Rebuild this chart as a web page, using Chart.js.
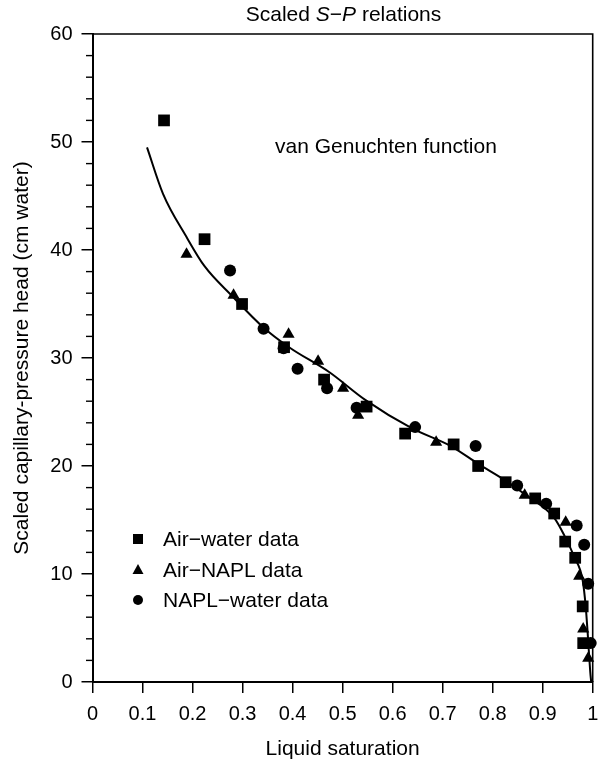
<!DOCTYPE html>
<html>
<head>
<meta charset="utf-8">
<script src="https://cdn.jsdelivr.net/npm/chart.js@4"></script>
<style>
  html,body{margin:0;padding:0;background:#fff;}
  #wrap{width:601px;height:762px;position:relative;}
</style>
</head>
<body>
<div id="wrap"><canvas id="chart" width="601" height="762"></canvas></div>
<script>
/* DATA */
const xTicks = [0,0.1,0.2,0.3,0.4,0.5,0.6,0.7,0.8,0.9,1];
const yTicks = [0,10,20,30,40,50,60];

const airWaterX = [0.143,0.224,0.299,0.383,0.463,0.548,0.625,0.722,0.771,0.826,0.885,0.923,0.945,0.965,0.980,0.981];
const airWaterY = [52.0,41.0,35.0,31.0,28.0,25.5,23.0,22.0,20.0,18.5,17.0,15.6,13.0,11.5,7.0,3.6];

const airNaplX = [0.188,0.282,0.392,0.451,0.501,0.531,0.687,0.864,0.946,0.973,0.981,0.991];
const airNaplY = [39.6,35.8,32.2,29.7,27.2,24.7,22.2,17.3,14.8,9.8,4.9,2.2];

const naplWaterX = [0.275,0.342,0.382,0.410,0.469,0.528,0.645,0.766,0.849,0.907,0.968,0.983,0.991,0.996];
const naplWaterY = [38.1,32.7,30.9,29.0,27.2,25.4,23.6,21.85,18.2,16.5,14.5,12.7,9.1,3.6];

const curveX = [0.109,0.141,0.188,0.224,0.280,0.340,0.393,0.473,0.546,0.638,0.718,0.771,0.824,0.870,0.923,0.943,0.963,0.980,0.986,0.990,0.995,0.997];
const curveY = [49.5,45.2,41.2,38.5,35.7,32.9,31.0,28.7,26.1,23.5,21.8,20.2,18.7,17.2,15.2,13.6,11.6,9.4,7.0,4.5,1.0,0];

const pts = (xs,ys)=>xs.map((x,i)=>({x:x,y:ys[i]}));

const FONT = "'Liberation Sans', Arial, Helvetica, sans-serif";

/* TEXT, FRAME, MINOR TICKS, LEGEND */
const decor = {
  id:"decor",
  afterDraw(chart){
    const ctx = chart.ctx, a = chart.chartArea;
    const ys = chart.scales.y;
    ctx.save();
    ctx.strokeStyle = "#000";
    ctx.fillStyle = "#000";

    // top + right frame
    ctx.lineWidth = 1.6;
    ctx.beginPath();
    ctx.moveTo(a.left, a.top); ctx.lineTo(a.right, a.top); ctx.lineTo(a.right, a.bottom);
    ctx.stroke();

    // y minor ticks
    ctx.lineWidth = 1.4;
    for(let v=2; v<60; v+=2){
      if(v%10===0) continue;
      const py = ys.getPixelForValue(v);
      ctx.beginPath(); ctx.moveTo(a.left-6.5, py); ctx.lineTo(a.left, py); ctx.stroke();
    }

    // title with italic S and P
    const parts = [["Scaled ",""],["S","italic "],["\u2212",""],["P","italic "],[" relations",""]];
    let total = 0;
    parts.forEach(p=>{ ctx.font = p[1]+"21px "+FONT; total += ctx.measureText(p[0]).width; });
    let tx = 343.5 - total/2;
    ctx.textBaseline = "alphabetic"; ctx.textAlign = "left";
    parts.forEach(p=>{ ctx.font = p[1]+"21px "+FONT; ctx.fillText(p[0], tx, 20.5); tx += ctx.measureText(p[0]).width; });

    // axis titles
    ctx.font = "21px "+FONT;
    ctx.textAlign = "center";
    ctx.fillText("Liquid saturation", (a.left+a.right)/2, 754.5);
    ctx.save();
    ctx.translate(28, (a.top+a.bottom)/2);
    ctx.rotate(-Math.PI/2);
    ctx.fillText("Scaled capillary-pressure head (cm water)", 0, 0);
    ctx.restore();

    // annotation
    ctx.textAlign = "left";
    ctx.fillText("van Genuchten function", 275, 152.5);

    // legend
    const rows = [
      {label:"Air\u2212water data", y:539, style:"rect"},
      {label:"Air\u2212NAPL data", y:570, style:"triangle"},
      {label:"NAPL\u2212water data", y:600, style:"circle"}
    ];
    rows.forEach(r=>{
      const cx = 138;
      ctx.beginPath();
      if(r.style==="rect") ctx.rect(cx-5, r.y-5, 10, 10);
      if(r.style==="triangle"){ ctx.moveTo(cx, r.y-6); ctx.lineTo(cx+5.5, r.y+4); ctx.lineTo(cx-5.5, r.y+4); ctx.closePath(); }
      if(r.style==="circle") ctx.arc(cx, r.y, 5, 0, Math.PI*2);
      ctx.fill();
      ctx.textBaseline = "middle";
      ctx.fillText(r.label, 163, r.y+1);
    });
    ctx.restore();
  }
};

const axisGrid = {display:true, drawOnChartArea:false, drawTicks:true, tickLength:11, color:"#000", lineWidth:1.5};

new Chart(document.getElementById("chart"),{
  type:"scatter",
  data:{
    datasets:[
      {label:"van Genuchten function", data:pts(curveX,curveY), showLine:true, pointRadius:0,
       borderColor:"#000", borderWidth:2, cubicInterpolationMode:"monotone", clip:false},
      {label:"Air-water data", data:pts(airWaterX,airWaterY), pointStyle:"rect", pointRadius:8.3,
       backgroundColor:"#000", borderColor:"#000", borderWidth:0, clip:false},
      {label:"Air-NAPL data", data:pts(airNaplX,airNaplY), pointStyle:"triangle", pointRadius:7,
       backgroundColor:"#000", borderColor:"#000", borderWidth:0, clip:false},
      {label:"NAPL-water data", data:pts(naplWaterX,naplWaterY), pointStyle:"circle", pointRadius:6,
       backgroundColor:"#000", borderColor:"#000", borderWidth:0, clip:false}
    ]
  },
  options:{
    responsive:false,
    animation:false,
    layout:{padding:{left:0,right:6,top:34,bottom:0}},
    plugins:{legend:{display:false}, tooltip:{enabled:false}},
    scales:{
      x:{
        type:"linear", min:0, max:1,
        afterBuildTicks:s=>{ s.ticks = xTicks.map(v=>({value:v})); },
        afterFit:s=>{ s.height = 80; s.paddingLeft = 0; s.paddingRight = 0; },
        ticks:{color:"#000", font:{family:FONT,size:20}, padding:9,
          callback:v=>String(Math.round(v*10)/10)},
        grid:axisGrid,
        border:{display:true,color:"#000",width:2}
      },
      y:{
        type:"linear", min:0, max:60,
        afterBuildTicks:s=>{ s.ticks = yTicks.map(v=>({value:v})); },
        afterFit:s=>{ s.width = 92.5; s.paddingTop = 0; s.paddingBottom = 0; },
        ticks:{color:"#000", font:{family:FONT,size:20}, padding:9},
        grid:axisGrid,
        border:{display:true,color:"#000",width:2}
      }
    }
  },
  plugins:[decor]
});
</script>
</body>
</html>
